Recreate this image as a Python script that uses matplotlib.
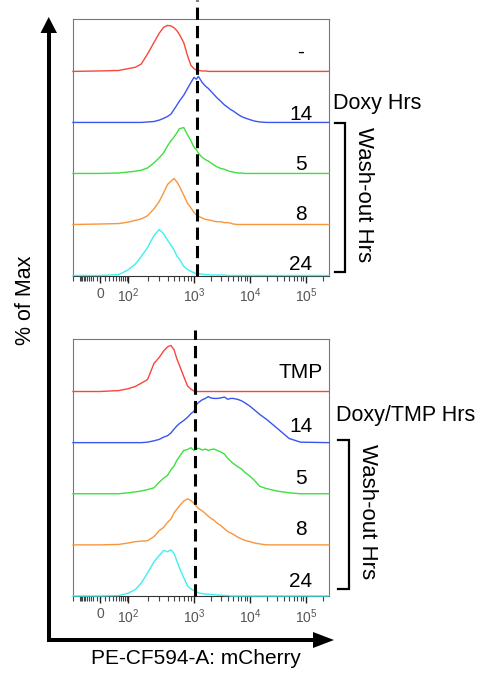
import numpy as np
import matplotlib.pyplot as plt
from matplotlib.ticker import FixedLocator, FixedFormatter

plt.rcParams['font.family'] = ['Liberation Sans', 'DejaVu Sans']

# PE-CF594-A (mCherry) intensity grid shared by all histograms
mcherry = [-200, 0, 50, 100, 130, 160, 200, 250, 300, 350, 400, 450, 500, 550, 600, 700, 800, 900,
           1000, 1100, 1200, 1400, 1600, 1800, 2000, 2300, 2600, 3000, 3500, 4000, 4500, 5000,
           6000, 7000, 8000, 10000, 12000, 15000, 20000, 30000, 50000, 80000, 262144]

# % of max, top panel (Doxy only)
red_top = [0, 1, 2, 6, 9, 16, 38, 63, 83, 96, 100, 99, 95, 89, 81, 63, 34, 13, 6, 3, 2, 1, 1,
           0, 0, 0, 0, 0, 0, 0, 0, 0, 0, 0, 0, 0, 0, 0, 0, 0, 0, 0, 0]
blue_top = [0, 0, 0, 0, 0, 0, 1, 2, 5, 9, 13, 18, 28, 37, 46, 59, 74, 87, 98, 94, 100, 87, 79,
            74, 68, 60, 53, 46, 38, 33, 28, 25, 18, 13, 10, 6, 3, 1, 0, 0, 0, 0, 0]
green_top = [0, 0, 1, 3, 5, 7, 12, 23, 34, 45, 60, 71, 79, 88, 97, 100, 84, 71, 57, 52, 44, 35,
             30, 27, 23, 18, 14, 11, 9, 6, 4, 3, 1, 1, 0, 0, 0, 0, 0, 0, 0, 0, 0]
orange_top = [0, 1, 2, 5, 9, 12, 19, 34, 50, 69, 87, 94, 100, 93, 84, 64, 46, 36, 26, 21, 18, 14,
              11, 10, 9, 7, 6, 6, 4, 4, 3, 1, 0, 0, 0, 0, 0, 0, 0, 0, 0, 0, 0]
cyan_top = [0, 0, 2, 12, 25, 41, 61, 87, 100, 91, 77, 66, 56, 43, 36, 20, 13, 9, 6, 4, 4, 3,
            2, 2, 1, 1, 1, 1, 1, 0, 0, 0, 0, 0, 0, 0, 0, 0, 0, 0, 0, 0, 0]

# % of max, bottom panel (Doxy/TMP)
red_bot = [0, 0, 2, 6, 11, 18, 26, 61, 74, 88, 97, 100, 91, 72, 58, 33, 12, 5, 1,
           0, 0, 0, 0, 0, 0, 0, 0, 0, 0, 0, 0, 0, 0, 0, 0, 0, 0, 0, 0, 0, 0, 0, 0]
blue_bot = [0, 0, 0, 0, 0, 0, 1, 4, 7, 12, 15, 21, 29, 36, 41, 48, 55, 63, 68, 82, 87, 93, 96,
            100, 97, 96, 96, 97, 99, 94, 96, 96, 94, 91, 87, 79, 71, 61, 50, 32, 9, 1, 0]
green_bot = [0, 0, 0, 2, 4, 6, 9, 13, 25, 34, 40, 52, 60, 72, 80, 94, 96, 100, 94, 97, 99, 95,
             97, 94, 96, 97, 94, 91, 86, 77, 71, 66, 59, 54, 47, 38, 29, 16, 11, 6, 2, 0, 0]
orange_bot = [0, 0, 1, 4, 7, 8, 9, 18, 31, 38, 49, 56, 69, 77, 84, 95, 100, 96, 90, 84, 79, 74,
              68, 62, 58, 53, 47, 42, 35, 29, 26, 23, 17, 13, 10, 7, 4, 2, 0, 0, 0, 0, 0]
cyan_bot = [0, 0, 1, 6, 14, 28, 50, 74, 88, 99, 96, 100, 93, 77, 62, 40, 22, 15, 12, 9, 7, 5,
            4, 4, 3, 3, 2, 2, 1, 1, 0, 0, 0, 0, 0, 0, 0, 0, 0, 0, 0, 0, 0]

labels_top = ['-', '14', '5', '8', '24']
labels_bot = ['TMP', '14', '5', '8', '24']
gate_top = 1150
gate_bot = 1050

colors = ['#f8463c', '#3a55f0', '#3ee03e', '#f7963c', '#3ef0f0']

# biexponential-like display scale
anchor_v = np.array([-1e6, -200, 0, 100, 1000, 1e4, 1e5, 262144, 1e7])
anchor_p = np.array([-15, 73, 100, 128, 194, 250, 306, 329, 417], dtype=float)


def _a(v):
    return np.arcsinh(np.asarray(v, dtype=float) / 30.0)


anchor_a = _a(anchor_v)


def fwd(v):
    return np.interp(_a(v), anchor_a, anchor_p)


def inv(p):
    return 30.0 * np.sinh(np.interp(p, anchor_p, anchor_a))


SPACING = 111
minor = ([-200] + [-10 * k for k in range(1, 11)] + [10 * k for k in range(1, 10)] +
         [m * 10 ** e for e in (2, 3, 4) for m in range(2, 10)] + [200000])


def draw_panel(ax, curves, labels, gate, dys, gate_top_frac):
    for i, (h, c) in enumerate(zip(curves, colors)):
        base = (4 - i) * SPACING
        ax.plot(mcherry, np.array(h) + base, color=c, lw=1.0, zorder=3, clip_on=False)
        ax.text(0.89, base + dys[i], labels[i], transform=ax.get_yaxis_transform(),
                ha='center', va='baseline', fontsize=15)
    ax.set_xscale('function', functions=(fwd, inv))
    ax.set_xlim(-200, 262144)
    ax.set_ylim(0, 558)
    ax.axvline(gate, ymin=0, ymax=gate_top_frac, color='k', lw=2.2, dashes=(4, 2),
               clip_on=False, zorder=4)
    ax.xaxis.set_major_locator(FixedLocator([0, 100, 1000, 10000, 100000]))
    ax.xaxis.set_major_formatter(FixedFormatter(['0', r'$\mathregular{10^2}$', r'$\mathregular{10^3}$',
                                                 r'$\mathregular{10^4}$', r'$\mathregular{10^5}$']))
    ax.xaxis.set_minor_locator(FixedLocator(minor))
    ax.tick_params(axis='x', which='major', length=5, width=1, color='#222', labelsize=10,
                   labelcolor='#555', pad=3)
    ax.tick_params(axis='x', which='minor', length=3.5, width=0.8, color='#444')
    ax.set_yticks([])
    for s in ['left', 'top', 'right']:
        ax.spines[s].set_color('#777')
        ax.spines[s].set_linewidth(0.8)
    ax.spines['bottom'].set_color('#333')
    ax.spines['bottom'].set_linewidth(0.8)


fig = plt.figure(figsize=(4.98, 6.73), dpi=100)
ax1 = fig.add_axes([73 / 498, 1 - 275.5 / 673, 256 / 498, 256.5 / 673])
ax2 = fig.add_axes([73 / 498, 1 - 596 / 673, 256 / 498, 257 / 673])

draw_panel(ax1, [red_top, blue_top, green_top, orange_top, cyan_top], labels_top, gate_top,
           [30, 6, 7, 9, 11], 1 + 19 / 256.5)
draw_panel(ax2, [red_bot, blue_bot, green_bot, orange_bot, cyan_bot], labels_bot, gate_bot,
           [29, 22, 22, 22, 19], 1 + 9 / 257)

# overlay in pixel units for arrows, brackets and outer labels
ov = fig.add_axes([0, 0, 1, 1], zorder=5)
ov.set_xlim(0, 498)
ov.set_ylim(673, 0)
ov.axis('off')
ov.patch.set_alpha(0)

ov.plot([48.7, 48.7, 314], [32, 640, 640], color='k', lw=2.9,
        solid_joinstyle='miter', solid_capstyle='butt')
ov.fill([40.5, 57, 48.7], [33, 33, 17], color='k', lw=0)
ov.fill([313, 313, 334], [632, 648, 640], color='k', lw=0)

ov.text(26, 300, '% of Max', rotation=90, ha='center', va='center', fontsize=15.5)
ov.text(195.5, 659, 'PE-CF594-A: mCherry', ha='center', va='center', fontsize=15)

ov.text(333, 103, 'Doxy Hrs', ha='left', va='center', fontsize=15.5)
ov.plot([335, 345, 345, 335], [123, 123, 272, 272], color='k', lw=1.6, solid_joinstyle='miter')
ov.text(363, 195, 'Wash-out Hrs', rotation=-90, ha='center', va='center', fontsize=16)

ov.text(336, 415, 'Doxy/TMP Hrs', ha='left', va='center', fontsize=15.5)
ov.plot([338, 349, 349, 338], [440, 440, 589, 589], color='k', lw=1.6, solid_joinstyle='miter')
ov.text(367, 512, 'Wash-out Hrs', rotation=-90, ha='center', va='center', fontsize=16)

fig.savefig('out.png', dpi=100)
